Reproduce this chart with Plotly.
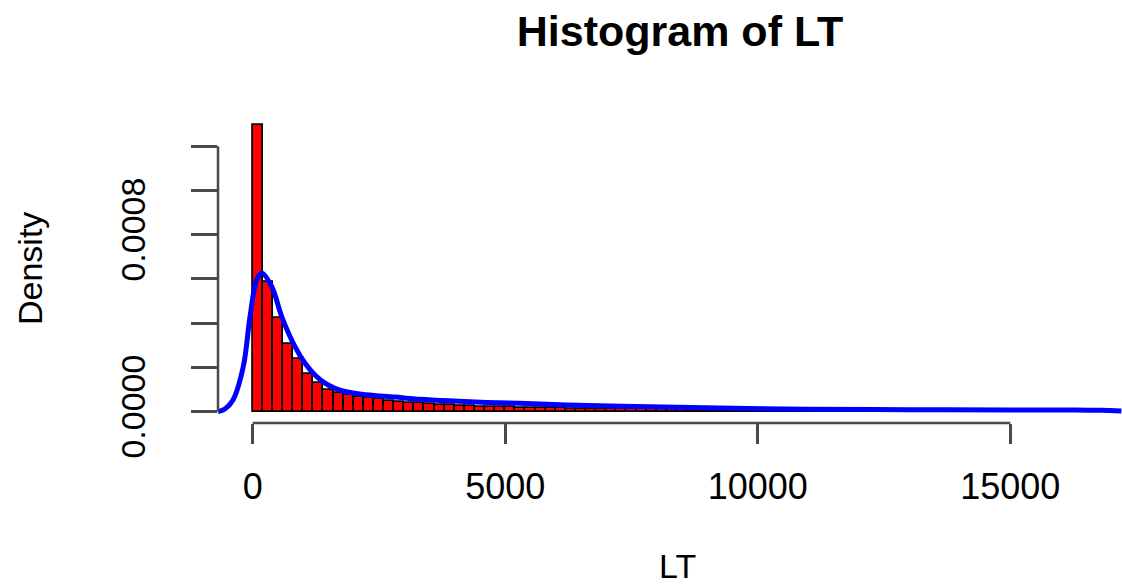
import numpy as np
import plotly.graph_objects as go

# ---- data ----
bin_width = 200
bin_start = 0
hist_density = [
    0.001294, 0.000588, 0.000425, 0.000305, 0.000237, 0.000169, 0.000130,
    0.000100, 0.000083, 0.000075, 0.000068, 0.000062, 0.000056, 0.000050,
    0.000045, 0.000041, 0.000037, 0.000034, 0.000031, 0.000028, 0.000026,
    0.000024, 0.000022, 0.000021, 0.000020,
    0.000019, 0.000018, 0.000017, 0.000016, 0.000016,
    0.000015, 0.000014, 0.000014, 0.000013, 0.000013,
    0.000012, 0.000012, 0.000011, 0.000011, 0.000011,
    0.000010, 0.000010, 0.000010, 0.000009, 0.000009,
    0.000009, 0.000009, 0.000008, 0.000008, 0.000008,
    0.000008, 0.000007, 0.000007, 0.000007, 0.000007,
    0.000007, 0.000006, 0.000006, 0.000006, 0.000006,
    0.000006, 0.000006, 0.000005, 0.000005, 0.000005,
    0.000005, 0.000005, 0.000005, 0.000005, 0.000005,
    0.000005, 0.000004, 0.000004, 0.000004, 0.000004,
    0.000004, 0.000004, 0.000004, 0.000004, 0.000004,
    0.000004, 0.000004, 0.000004, 0.000004, 0.000004,
    0.000004,
]

dens_x = [-687, -550, -390, -186, -53, 79, 178, 376, 574, 837, 1036, 1233,
          1431, 1629, 1827, 2157, 2817, 3312, 3972, 4632, 5292, 6217, 7870,
          9515, 11000, 13000, 15000, 16300, 16800, 17200]
dens_y = [0.0, 0.000012, 0.000053, 0.000204, 0.00043, 0.000596, 0.000627,
          0.000566, 0.00043, 0.000294, 0.000219, 0.000166, 0.000129, 0.000106,
          0.000091, 0.000079, 0.000066, 0.000056, 0.000048, 0.000042,
          0.000038, 0.000030, 0.000022, 0.000016, 0.000011, 0.000009,
          0.000008, 0.000008, 0.000006, 0.000003]

x_tickvals = [0, 5000, 10000, 15000]
x_ticktext = ["0", "5000", "10000", "15000"]
y_tickvals = [0, 0.0002, 0.0004, 0.0006, 0.0008, 0.0010, 0.0012]
y_ticktext = ["0.0000", "", "", "", "0.0008", "", ""]

title_text = "Histogram of LT"
x_label = "LT"
y_label = "Density"

# ---- figure ----
mids = bin_start + bin_width * (np.arange(len(hist_density)) + 0.5)

FONT = "Liberation Sans, Arial, sans-serif"
AX = "#4a4a4a"

fig = go.Figure()
fig.add_trace(go.Bar(
    x=mids, y=hist_density, width=bin_width,
    marker=dict(color="#ff0000", line=dict(color="black", width=1.8)),
    hoverinfo="skip",
))
fig.add_trace(go.Scatter(
    x=dens_x, y=dens_y, mode="lines",
    line=dict(color="#0000ff", width=5, shape="spline", smoothing=1.0),
    hoverinfo="skip",
))

fig.update_layout(
    width=1122, height=587, autosize=False,
    margin=dict(l=218, r=0, t=115, b=164, pad=0),
    plot_bgcolor="white", paper_bgcolor="white",
    showlegend=False, bargap=0,
    font=dict(family=FONT, color="black"),
    title=dict(text="<b>" + title_text + "</b>", xref="container", yref="container",
               x=680 / 1122, y=1 - 31 / 587, xanchor="center", yanchor="middle",
               font=dict(size=43, family=FONT, color="black")),
    xaxis=dict(range=[-687, 17212], tickvals=x_tickvals, ticktext=x_ticktext,
               ticks="outside", ticklen=20, tickwidth=2.5, tickcolor=AX,
               showline=False, showgrid=False, zeroline=False,
               tickfont=dict(size=36, family=FONT, color="black"),
               ticklabelstandoff=12),
    yaxis=dict(range=[-0.0000512, 0.001341], tickvals=y_tickvals, ticktext=y_ticktext,
               ticks="outside", ticklen=26, tickwidth=2.5, tickcolor=AX,
               showline=False, showgrid=False, zeroline=False, tickangle=-90,
               tickfont=dict(size=34, family=FONT, color="black"),
               ticklabelstandoff=32),
    shapes=[
        dict(type="line", xref="x", yref="paper", x0=x_tickvals[0], x1=x_tickvals[-1],
             y0=0, y1=0, line=dict(color=AX, width=2.5)),
        dict(type="line", xref="paper", yref="y", x0=0, x1=0,
             y0=y_tickvals[0], y1=y_tickvals[-1], line=dict(color=AX, width=2.5)),
    ],
    annotations=[
        dict(text=x_label, xref="paper", yref="paper", x=(677 - 218) / 904,
             y=(423 - 566) / 308, showarrow=False, xanchor="center", yanchor="middle",
             font=dict(size=34, family=FONT, color="black")),
        dict(text=y_label, xref="paper", yref="paper", x=(30 - 218) / 904,
             y=0.5, showarrow=False, textangle=-90, xanchor="center", yanchor="middle",
             font=dict(size=34, family=FONT, color="black")),
    ],
)

fig.write_html("out.html")
